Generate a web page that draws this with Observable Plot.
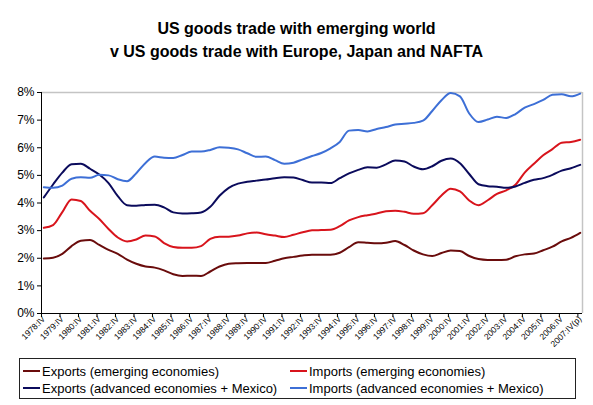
<!DOCTYPE html>
<html>
<head>
<meta charset="utf-8">
<script src="https://cdn.jsdelivr.net/npm/d3@7"></script>
<script src="https://cdn.jsdelivr.net/npm/@observablehq/plot@0.6"></script>
<style>
  body { margin: 0; background: #fff; font-family: "Liberation Sans", Arial, sans-serif; }
  #wrap { width: 593px; height: 405px; position: relative; overflow: hidden; background: #fff; }
  #title { height: 61px; box-sizing: border-box; padding-top: 17px; text-align: center;
           font-weight: bold; font-size: 16px; line-height: 23px; color: #000; }
  #chart svg { display: block; }
  #legend { position: absolute; left: 19px; top: 358px; width: 557px; height: 41px;
            box-sizing: border-box; border: 1px solid #222; font-size: 13px; color: #000; }
  .item { position: absolute; display: flex; align-items: center; height: 18px; white-space: nowrap; }
  .sw { width: 17px; height: 2px; margin-right: 2px; }
</style>
</head>
<body>
<div id="wrap">
  <div id="title">US goods trade with emerging world<br>v US goods trade with Europe, Japan and NAFTA</div>
  <div id="chart"></div>
  <div id="legend"></div>
</div>
<script>
// Share of US goods trade, % — readings every second quarter, 1978:IV … 2007:IV(p)
const quarters = [];
for (let i = 0; i <= 116; i += 2) {
  const year = 1978 + Math.floor((i + 3) / 4);
  const q = ["I", "II", "III", "IV"][(i + 3) % 4];
  quarters.push({ index: i, label: `${year}:${q}` });
}

const tickLabels = [
  "1978:IV", "1979:IV", "1980:IV", "1981:IV", "1982:IV", "1983:IV", "1984:IV", "1985:IV",
  "1986:IV", "1987:IV", "1988:IV", "1989:IV", "1990:IV", "1991:IV", "1992:IV", "1993:IV",
  "1994:IV", "1995:IV", "1996:IV", "1997:IV", "1998:IV", "1999:IV", "2000:IV", "2001:IV",
  "2002:IV", "2003:IV", "2004:IV", "2005:IV", "2006:IV", "2007:IV(p)"
];

const yTicks = [0, 1, 2, 3, 4, 5, 6, 7, 8];

const exportsEmerging = [
  1.99, 2.02, 2.16, 2.44, 2.63, 2.66, 2.48, 2.30, 2.16, 1.95, 1.80, 1.70, 1.66, 1.56, 1.42,
  1.36, 1.37, 1.36, 1.52, 1.70, 1.80, 1.82, 1.83, 1.83, 1.83, 1.91, 2.00, 2.05, 2.10, 2.13,
  2.13, 2.13, 2.20, 2.40, 2.58, 2.56, 2.54, 2.56, 2.62, 2.48, 2.28, 2.14, 2.08, 2.19, 2.28,
  2.26, 2.08, 1.97, 1.94, 1.94, 1.95, 2.07, 2.14, 2.17, 2.29, 2.42, 2.61, 2.74, 2.92
];

const importsEmerging = [
  3.10, 3.20, 3.67, 4.13, 4.07, 3.72, 3.42, 3.06, 2.75, 2.61, 2.68, 2.82, 2.79, 2.55, 2.41,
  2.38, 2.38, 2.44, 2.70, 2.78, 2.78, 2.82, 2.90, 2.93, 2.87, 2.82, 2.77, 2.85, 2.94, 3.01,
  3.02, 3.03, 3.16, 3.37, 3.49, 3.56, 3.62, 3.70, 3.72, 3.68, 3.61, 3.63, 3.92, 4.27, 4.52,
  4.42, 4.09, 3.92, 4.10, 4.33, 4.46, 4.66, 5.10, 5.42, 5.73, 5.95, 6.18, 6.21, 6.29
];

const exportsAdvanced = [
  4.20, 4.67, 5.10, 5.40, 5.42, 5.24, 5.03, 4.72, 4.25, 3.92, 3.90, 3.93, 3.94, 3.84, 3.66,
  3.62, 3.63, 3.66, 3.86, 4.26, 4.55, 4.70, 4.77, 4.81, 4.85, 4.90, 4.93, 4.92, 4.83, 4.74,
  4.74, 4.72, 4.90, 5.07, 5.20, 5.29, 5.28, 5.40, 5.54, 5.50, 5.32, 5.22, 5.33, 5.53, 5.61,
  5.44, 5.05, 4.68, 4.61, 4.59, 4.55, 4.60, 4.73, 4.84, 4.90, 5.02, 5.17, 5.26, 5.38
];

const importsAdvanced = [
  4.57, 4.55, 4.63, 4.88, 4.93, 4.91, 5.02, 5.00, 4.86, 4.79, 5.08, 5.45, 5.68, 5.64, 5.63,
  5.74, 5.86, 5.86, 5.92, 6.02, 6.00, 5.94, 5.80, 5.67, 5.68, 5.55, 5.42, 5.46, 5.58, 5.70,
  5.81, 5.98, 6.21, 6.62, 6.64, 6.59, 6.68, 6.75, 6.84, 6.87, 6.90, 6.98, 7.33, 7.72, 7.98,
  7.86, 7.24, 6.93, 7.02, 7.12, 7.08, 7.22, 7.45, 7.58, 7.73, 7.92, 7.94, 7.86, 7.96
];

const series = [
  { name: "Exports (emerging economies)", values: exportsEmerging, color: "#6a0c0c" },
  { name: "Imports (emerging economies)", values: importsEmerging, color: "#d8141c" },
  { name: "Exports (advanced economies + Mexico)", values: exportsAdvanced, color: "#0b0b5c" },
  { name: "Imports (advanced economies + Mexico)", values: importsAdvanced, color: "#3d6fd6" }
];

const rows = series.flatMap(s =>
  s.values.map((v, k) => ({ series: s.name, index: quarters[k].index, quarter: quarters[k].label, value: v }))
);

// category boundaries every four quarters, labels centred on the IV quarters
const labelAt = tickLabels.map((_, k) => k * 4);
const tickAt = labelAt.map(i => i - 0.5);

const chart = Plot.plot({
  width: 593,
  height: 296,
  marginLeft: 41,
  marginRight: 11,
  marginTop: 31,
  marginBottom: 44,
  x: { domain: [-0.5, 116.5], axis: null },
  y: { domain: [0, 8], axis: null },
  style: { fontFamily: "'Liberation Sans', Arial, sans-serif", background: "#fff", color: "#000", overflow: "visible" },
  marks: [
    Plot.ruleY([8], { stroke: "#c4c4c4", strokeWidth: 1.5 }),
    Plot.ruleX([116.5], { stroke: "#c4c4c4", strokeWidth: 1.5 }),
    Plot.axisY(yTicks, { label: null, tickSize: 4, tickPadding: 3, fontSize: 12, tickFormat: d => d + "%" }),
    Plot.axisX(tickAt, { label: null, tickSize: 4, tickFormat: () => "" }),
    Plot.axisX(labelAt, { label: null, tickSize: 0, tickPadding: 4, tickRotate: -45, fontSize: 8.5,
                          textAnchor: "end", tickFormat: d => tickLabels[d / 4] }),
    Plot.ruleX([-0.5], { stroke: "#000" }),
    Plot.ruleY([0], { stroke: "#000" }),
    ...series.map(s => Plot.line(rows.filter(r => r.series === s.name), {
      x: "index", y: "value", stroke: s.color, strokeWidth: 2, curve: "monotone-x"
    }))
  ]
});
document.getElementById("chart").append(chart);

// legend: two columns, two rows
const legend = document.getElementById("legend");
const spots = [[3, 3], [270, 3], [3, 20], [270, 20]];
series.forEach((s, k) => {
  const item = document.createElement("div");
  item.className = "item";
  item.style.left = spots[k][0] + "px";
  item.style.top = spots[k][1] + "px";
  const sw = document.createElement("span");
  sw.className = "sw";
  sw.style.background = s.color;
  item.append(sw, document.createTextNode(s.name));
  legend.append(item);
});
</script>
</body>
</html>
